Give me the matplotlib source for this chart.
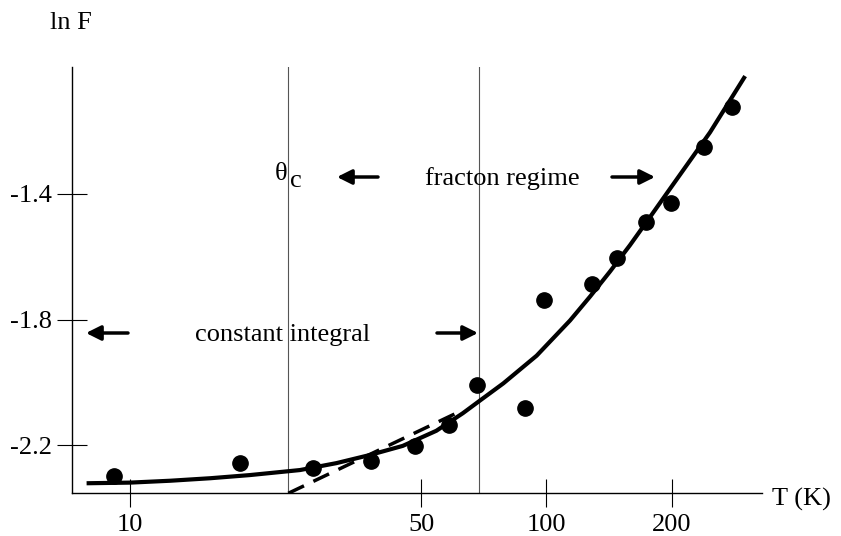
import matplotlib
matplotlib.use("Agg")
import matplotlib.pyplot as plt
from matplotlib.ticker import FixedLocator, NullLocator, FixedFormatter

plt.rcParams['font.family'] = ['Liberation Serif', 'DejaVu Serif']
plt.rcParams['axes.unicode_minus'] = False

# ---- data ----
T_data = [9.15, 18.4, 27.5, 38.0, 48.3, 58.3, 68.2, 88.7, 98.6, 128.8, 147.4, 173.0, 198.6, 238.8, 278.5]
lnF_data = [-2.298, -2.257, -2.273, -2.249, -2.202, -2.135, -2.008, -2.082, -1.738, -1.687, -1.605, -1.488, -1.430, -1.252, -1.122]

T_fit = [7.87, 10.0, 12.5, 15.6, 19.4, 25.6, 31.3, 37.7, 45.2, 54.4, 63.0, 69.2, 78.8, 94.7,
         113.9, 127.2, 142.1, 158.7, 177.2, 197.9, 221.1, 247.0, 299.9]
lnF_fit = [-2.321, -2.319, -2.313, -2.305, -2.295, -2.279, -2.257, -2.231, -2.202, -2.154, -2.098, -2.058, -2.003, -1.915,
           -1.803, -1.727, -1.647, -1.563, -1.474, -1.384, -1.294, -1.204, -1.025]

T_dash = [24.0, 63.0]
lnF_dash = [-2.353, -2.088]

T_lines = [24.0, 69.0]

x_ticks = [10, 50, 100, 200]
x_tick_labels = ['10', '50', '100', '200']
y_ticks = [-2.2, -1.8, -1.4]
y_tick_labels = ['-2.2', '-1.8', '-1.4']

W, H = 841, 536
fig = plt.figure(figsize=(W / 100, H / 100), dpi=100)
ax = fig.add_axes([72 / W, (H - 493.3) / H, (762 - 72) / W, (493.3 - 67) / H])

ax.set_xscale('log')
ax.set_xlim(7.26, 329.2)
ax.set_ylim(-2.353, -0.996)

for t in T_lines:
    ax.axvline(t, color='#555555', lw=0.8, zorder=1)

ax.plot(T_fit, lnF_fit, color='black', lw=3, solid_capstyle='butt', solid_joinstyle='round', zorder=3)
ax.plot(T_dash, lnF_dash, color='black', lw=2.5, dashes=(5, 3), zorder=3)
ax.plot(T_data, lnF_data, 'o', color='black', ms=11, zorder=4)

ax.spines['top'].set_visible(False)
ax.spines['right'].set_visible(False)
for s in ('left', 'bottom'):
    ax.spines[s].set_linewidth(1.0)

ax.xaxis.set_major_locator(FixedLocator(x_ticks))
ax.xaxis.set_major_formatter(FixedFormatter(x_tick_labels))
ax.xaxis.set_minor_locator(NullLocator())
ax.yaxis.set_major_locator(FixedLocator(y_ticks))
ax.yaxis.set_major_formatter(FixedFormatter(y_tick_labels))
ax.tick_params(axis='x', direction='inout', length=20, width=0.8, pad=5, labelsize=19)
ax.tick_params(axis='y', direction='inout', length=21, width=0.8, pad=4, labelsize=19)


def px(x, y):
    return (x / W, 1 - y / H)


fs = 19
fig.text(*px(50, 29.3), 'ln F', fontsize=fs, ha='left', va='baseline')
fig.text(*px(772, 506), 'T (K)', fontsize=fs, ha='left', va='baseline')
fig.text(*px(275, 180), 'θ', fontsize=fs, ha='left', va='baseline')
fig.text(*px(290, 187), 'c', fontsize=fs, ha='left', va='baseline')
fig.text(*px(502.5, 185.5), 'fracton regime', fontsize=fs, ha='center', va='baseline')
fig.text(*px(283, 340.7), 'constant integral', fontsize=fs, ha='center', va='baseline')

arrows = [((378, 177), (337, 177)), ((612, 177), (655, 177)),
          ((128, 333), (86, 333)), ((437, 333), (478, 333))]
for tail, head in arrows:
    fig.add_artist(matplotlib.patches.FancyArrowPatch(
        px(*tail), px(*head), transform=fig.transFigure,
        arrowstyle='-|>', mutation_scale=22, lw=2.5, color='black',
        shrinkA=0, shrinkB=0))

fig.savefig('out.png', dpi=100)
